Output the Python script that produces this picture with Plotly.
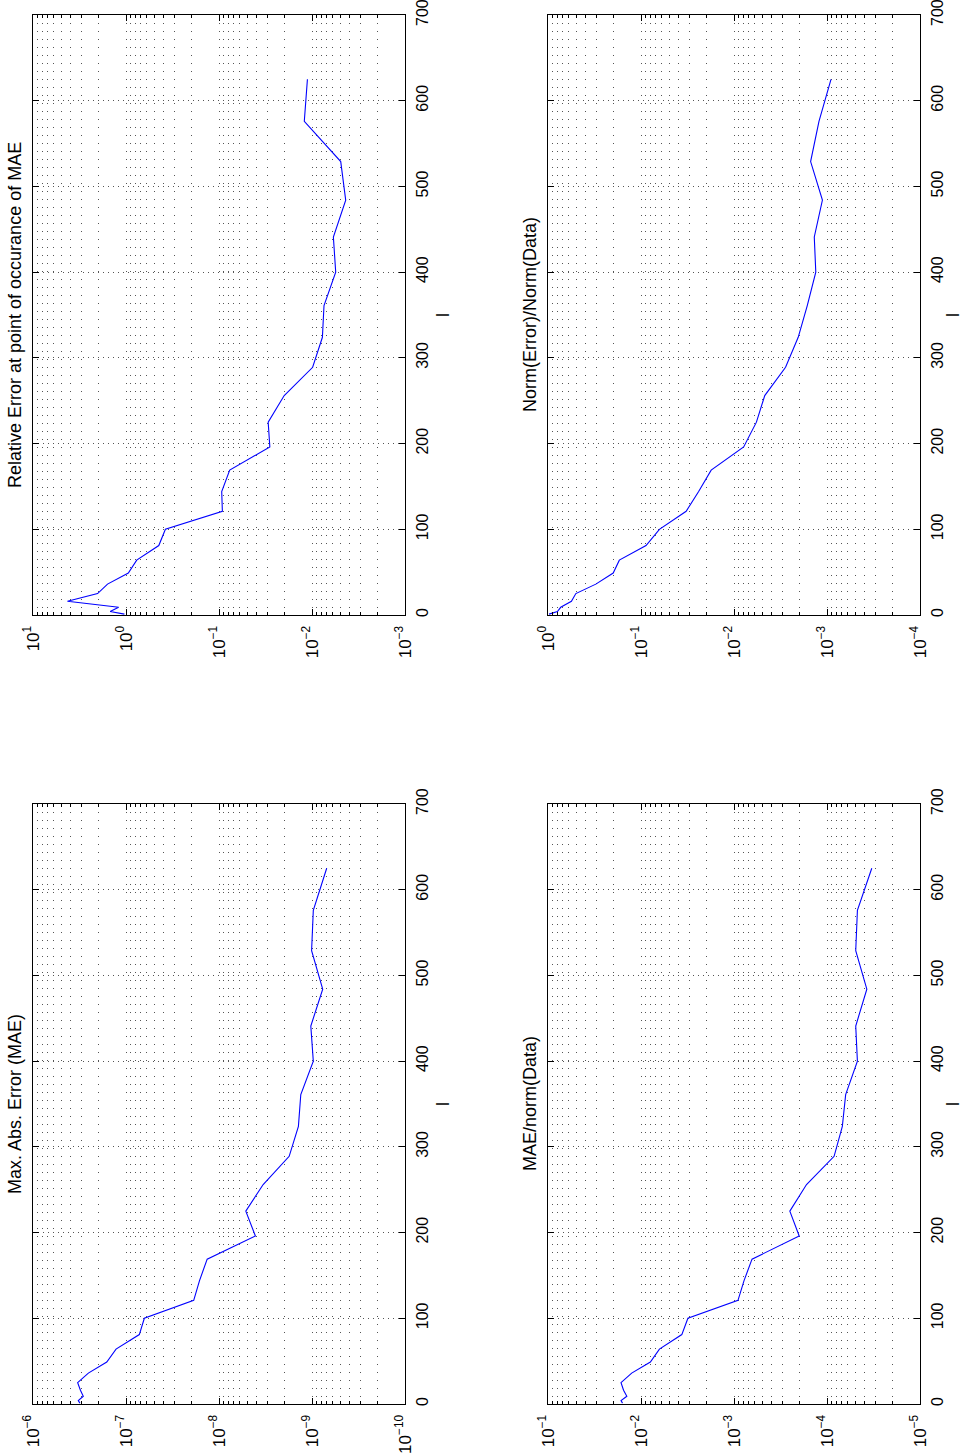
import plotly.graph_objects as go

W, H = 964, 1453

# ---- data -----------------------------------------------------------------
l_vals = [1, 4, 9, 16, 25, 36, 49, 64, 81, 100, 121, 144, 169, 196, 225,
          256, 289, 324, 361, 400, 441, 484, 529, 576, 625]

mae = [3.13e-7, 3.26e-7, 2.88e-7, 3.09e-7, 3.31e-7, 2.54e-7, 1.61e-7, 1.28e-7,
       7.19e-8, 6.35e-8, 1.87e-8, 1.62e-8, 1.34e-8, 4.06e-9, 5.15e-9, 3.35e-9,
       1.76e-9, 1.40e-9, 1.32e-9, 9.68e-10, 1.03e-9, 7.67e-10, 1.01e-9,
       9.68e-10, 6.95e-10]

rel_err = [1.04, 1.48, 1.20, 4.26, 2.02, 1.58, 0.944, 0.767, 0.444, 0.377,
           0.0920, 0.0935, 0.0767, 0.0284, 0.0296, 0.0199, 0.00984, 0.00773,
           0.00743, 0.00556, 0.00589, 0.00434, 0.00491, 0.0121, 0.0112]

mae_norm = [0.0158, 0.0164, 0.0142, 0.0154, 0.0164, 0.0126, 0.00793, 0.00634,
            0.00364, 0.00313, 9.06e-4, 7.80e-4, 6.40e-4, 1.99e-4, 2.51e-4,
            1.66e-4, 8.39e-5, 6.84e-5, 6.30e-5, 4.71e-5, 4.91e-5, 3.73e-5,
            4.91e-5, 4.71e-5, 3.30e-5]

norm_ratio = [0.975, 0.792, 0.730, 0.560, 0.502, 0.306, 0.199, 0.171, 0.0883,
              0.0634, 0.0327, 0.0240, 0.0176, 0.00787, 0.00574, 0.00467,
              0.00279, 0.00204, 0.00163, 0.00132, 0.00137, 0.00112, 0.00150,
              0.00122, 9.06e-4]

l_ticks = [0, 100, 200, 300, 400, 500, 600, 700]
l_range = [0, 700]

titles = ["Max. Abs. Error (MAE)", "Relative Error at point of occurance of MAE",
          "MAE/norm(Data)", "Norm(Error)/Norm(Data)"]
decades_mae = [-6, -7, -8, -9, -10]
decades_rel = [1, 0, -1, -2, -3]
decades_maen = [-1, -2, -3, -4, -5]
decades_norm = [0, -1, -2, -3, -4]
l_label = "l"

# ---- layout (pixel boxes: x0, x1, ytop, ybottom, x of "l" label) ----------
panels = [
    (mae, titles[0], decades_mae, (33, 405, 804, 1404, 443)),
    (rel_err, titles[1], decades_rel, (33, 405, 15, 615, 443)),
    (mae_norm, titles[2], decades_maen, (548, 920, 804, 1404, 953)),
    (norm_ratio, titles[3], decades_norm, (548, 920, 15, 615, 953)),
]

FONT = "Liberation Sans, Arial, Helvetica, sans-serif"
fig = go.Figure()
annotations = []

for i, (vals, title, decs, (x0, x1, yt, yb, xl)) in enumerate(panels):
    n = "" if i == 0 else str(i + 1)
    fig.add_trace(go.Scatter(x=vals, y=l_vals, mode="lines",
                             line=dict(color="#0000ff", width=1.1),
                             xaxis="x" + n, yaxis="y" + n, showlegend=False,
                             hoverinfo="skip"))
    tickvals = [10.0 ** d for d in decs]
    ticktext = ["10<sup>\u2212%d</sup>" % (-d) if d < 0 else "10<sup>%d</sup>" % d
                for d in decs]
    minor_vals = []
    lo, hi = min(decs), max(decs)
    for d in range(lo, hi):
        for k in range(2, 10):
            minor_vals.append(k * 10.0 ** d)
    xd = [x0 / W, x1 / W]
    yd = [1 - yb / H, 1 - yt / H]
    fig.layout["xaxis" + n] = dict(
        type="log", range=[decs[0], decs[-1]], domain=xd, automargin=False,
        anchor="y" + n, tickvals=tickvals, ticktext=ticktext, tickangle=-90,
        ticks="inside", ticklen=6, tickcolor="black",
        showline=True, linecolor="black", linewidth=1, mirror="allticks",
        showgrid=True, gridcolor="#555", griddash="1px,7px", gridwidth=1,
        minor=dict(tickvals=minor_vals, ticks="inside", ticklen=3,
                   tickcolor="black", showgrid=True, gridcolor="#555",
                   griddash="1px,7px", gridwidth=1),
        zeroline=False, tickfont=dict(family=FONT, size=17, color="black"),
        ticklabelstandoff=3, ticklabeloverflow="allow",
    )
    fig.layout["yaxis" + n] = dict(
        range=l_range, domain=yd, anchor="x" + n, side="right",
        automargin=False, tickvals=l_ticks, tickangle=-90,
        ticks="inside", ticklen=6, tickcolor="black",
        showline=True, linecolor="black", linewidth=1, mirror="allticks",
        showgrid=True, gridcolor="#555", griddash="1px,4px", gridwidth=1,
        zeroline=False, tickfont=dict(family=FONT, size=16, color="black"),
        ticklabelstandoff=3, ticklabeloverflow="allow",
    )
    annotations.append(dict(
        text=title, textangle=-90, xref="paper", yref="paper",
        x=(x0 - 18) / W, y=1 - (yt + yb) / 2 / H, showarrow=False,
        xanchor="center", yanchor="middle",
        font=dict(family=FONT, size=18, color="black")))
    annotations.append(dict(
        text=l_label, textangle=-90, xref="paper", yref="paper",
        x=xl / W, y=1 - (yt + yb) / 2 / H, showarrow=False,
        xanchor="center", yanchor="middle", borderpad=0,
        font=dict(family=FONT, size=18, color="black")))

fig.update_layout(template="none", width=W, height=H,
                  margin=dict(l=0, r=0, t=0, b=0),
                  paper_bgcolor="white", plot_bgcolor="white",
                  annotations=annotations)
fig.write_html("out.html", config={"displayModeBar": False},
               post_script="document.body.style.margin='0';"
                           "document.body.style.overflow='hidden';")
